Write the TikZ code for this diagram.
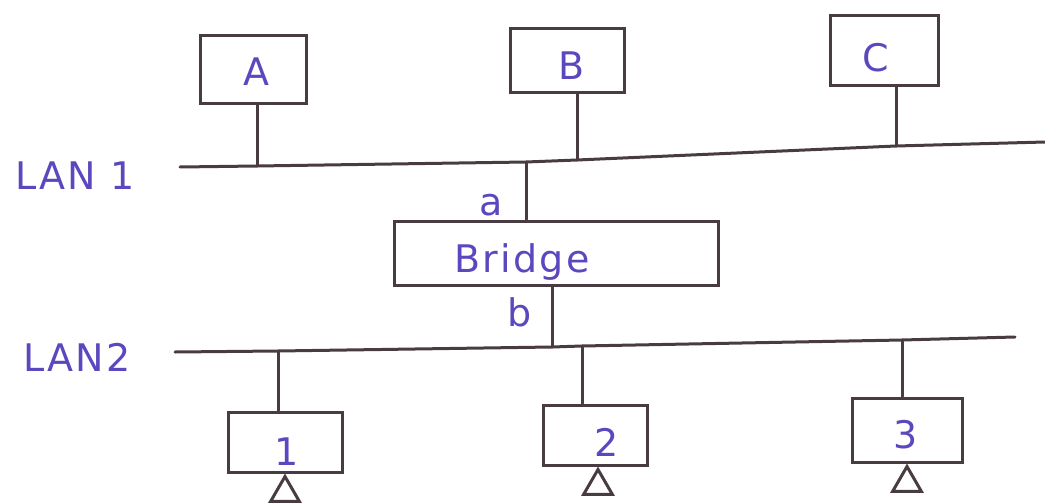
\documentclass[tikz,border=0pt]{standalone}
\usepackage{fontspec}
\setmainfont{DejaVu Sans}
\usetikzlibrary{shapes.geometric,calc}
\definecolor{ink}{RGB}{92,72,190}
\definecolor{pencil}{RGB}{72,60,66}
\begin{document}
\begin{tikzpicture}[x=0.5pt,y=-0.5pt,
  box/.style={draw=pencil,line width=1.5pt,inner sep=0pt},
  lbl/.style={text=ink,font=\fontsize{19}{22}\selectfont\addfontfeature{LetterSpace=6}},
  wire/.style={draw=pencil,line width=1.5pt,line cap=round,line join=round},
  tri/.style={draw=pencil,line width=1.5pt,regular polygon,regular polygon sides=3,minimum size=16.5pt,inner sep=0pt,anchor=corner 1}]
\useasboundingbox (0,0) rectangle (1045,503);
% stations on LAN 1
\node[box,minimum width=53pt,minimum height=34pt] (A) at (253,69) {};
\node[lbl] (lA) at (256,72) {A};
\node[box,minimum width=57pt,minimum height=32pt] (B) at (567,60) {};
\node[lbl] (lB) at (572,66) {B};
\node[box,minimum width=54pt,minimum height=35pt] (C) at (884,50) {};
\node[lbl] (lC) at (876,58) {C};
% LAN 1 bus
\coordinate (l1L) at (180,167);
\coordinate (tA) at (257,166);
\coordinate (ta) at (526,162);
\coordinate (tB) at (577,160);
\coordinate (tC) at (896,146);
\coordinate (l1R) at (1045,142);
\draw[wire] (l1L) -- (tA) -- (ta) -- (tB) -- (tC) -- (l1R);
\node[lbl,anchor=west] (LAN1) at (8,176) {LAN 1};
\draw[wire] (tA |- A.south) -- (tA);
\draw[wire] (tB |- B.south) -- (tB);
\draw[wire] (tC |- C.south) -- (tC);
% bridge
\node[box,minimum width=162pt,minimum height=32pt] (br) at (556,253) {};
\node[lbl] (lbr) at (522,262) {Bridge};
\draw[wire] (ta) -- (ta |- br.north);
\node[lbl] (pa) at (491,205) {a};
% LAN 2 bus
\coordinate (l2L) at (175,352);
\coordinate (t1) at (278,351);
\coordinate (tb) at (552,347);
\coordinate (t2) at (582,346);
\coordinate (t3) at (902,340);
\coordinate (l2R) at (1015,337);
\draw[wire] (l2L) -- (t1) -- (tb) -- (t2) -- (t3) -- (l2R);
\node[lbl,anchor=west] (LAN2) at (16,357) {LAN2};
\draw[wire] (tb |- br.south) -- (tb);
\node[lbl] (pb) at (520,312) {b};
% stations on LAN 2
\node[box,minimum width=57pt,minimum height=30pt] (S1) at (285,442) {};
\node[lbl] (l1) at (287,452) {1};
\node[box,minimum width=52pt,minimum height=30pt] (S2) at (595,435) {};
\node[lbl] (l2) at (607,442) {2};
\node[box,minimum width=55pt,minimum height=32pt] (S3) at (907,430) {};
\node[lbl] (l3) at (906,435) {3};
\draw[wire] (t1) -- (t1 |- S1.north);
\draw[wire] (t2) -- (t2 |- S2.north);
\draw[wire] (t3) -- (t3 |- S3.north);
% triangles
\node[tri] (g1) at (S1.south) {};
\node[tri] (g2) at ($(S2.south)+(3,0)$) {};
\node[tri] (g3) at (S3.south) {};
\end{tikzpicture}
\end{document}
